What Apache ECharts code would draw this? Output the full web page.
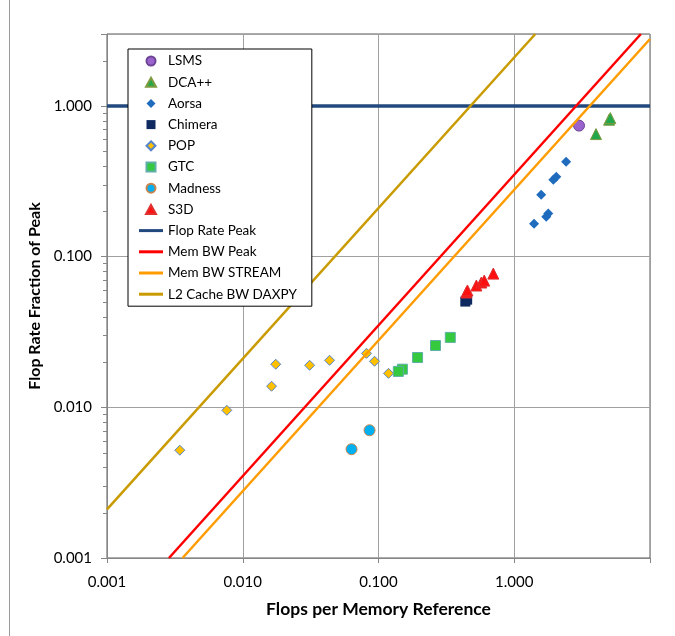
<!DOCTYPE html>
<html><head><meta charset="utf-8">
<script src="https://cdn.jsdelivr.net/npm/echarts@6/dist/echarts.min.js"></script>
<style>html,body{margin:0;padding:0;background:#fff}#c{width:675px;height:636px}</style>
</head><body><div id="c"></div>
<script>
// ---- data (x = Flops per Memory Reference, y = Flop Rate Fraction of Peak) ----
const xTickValues = [0.001, 0.01, 0.1, 1];
const yTickValues = [0.001, 0.01, 0.1, 1];
const yMinorTickValues = [0.002,0.003,0.004,0.005,0.006,0.007,0.008,0.009,
  0.02,0.03,0.04,0.05,0.06,0.07,0.08,0.09,
  0.2,0.3,0.4,0.5,0.6,0.7,0.8,0.9, 2];

const lsms    = [[3.0, 0.74]];
const dcapp   = [[4.0, 0.65], [5.0, 0.81], [5.1, 0.83]];
const aorsa   = [[2.41, 0.426], [2.04, 0.339], [1.94, 0.324], [1.58, 0.257], [1.78, 0.193], [1.72, 0.184], [1.40, 0.165]];
const chimera = [[0.436, 0.0503], [0.45, 0.0518]];
const pop     = [[0.00344, 0.00519], [0.00763, 0.00955], [0.0163, 0.0138], [0.0175, 0.0193], [0.0311, 0.0190],
                 [0.0436, 0.0205], [0.0816, 0.0228], [0.0935, 0.0202], [0.1185, 0.0168]];
const gtc     = [[0.338, 0.0291], [0.263, 0.0257], [0.194, 0.0214], [0.150, 0.0179], [0.140, 0.0173]];
const madness = [[0.0859, 0.00704], [0.0633, 0.00527]];
const s3d     = [[0.444, 0.0578], [0.452, 0.0596], [0.526, 0.0643], [0.572, 0.0673], [0.601, 0.0693], [0.701, 0.0771]];

const flopRatePeak = [[0.001, 1], [10, 1]];
const memBWPeak    = [[0.00286, 0.001], [8.57, 3]];
const memBWStream  = [[0.0036, 0.001], [10, 2.78]];
const l2CacheDaxpy = [[0.001, 0.0021], [1.43, 3]];

const FONT = 'Lato';
const isPow10 = v => Math.abs(Math.log10(v) - Math.round(Math.log10(v))) < 1e-6;
const LINE_ICON = 'path://M0,0L24,0L24,3L0,3Z';
const TRI_ICON = 'path://M5,0L10,9L0,9Z';
const DIA_ICON = 'path://M5,0L10,5L5,10L0,5Z';
const SQ_ICON = 'path://M0,0L10,0L10,10L0,10Z';

function scatter(name, data, symbol, size, fill, border, bw) {
  return { name, type: 'scatter', data, symbol, symbolSize: size, z: 3,
    itemStyle: { color: fill, borderColor: border, borderWidth: bw, opacity: 1 } };
}
function line(name, data, color, width) {
  return { name, type: 'line', data, showSymbol: false, symbol: 'none', z: 4,
    lineStyle: { color, width }, itemStyle: { color } };
}

const chart = echarts.init(document.getElementById('c'), null, { renderer: 'canvas' });
chart.setOption({
  backgroundColor: '#fff',
  animation: false,
  textStyle: { fontFamily: FONT },
  graphic: [{ type: 'line', shape: { x1: 9.5, y1: 0, x2: 9.5, y2: 636 }, style: { stroke: '#9a9a9a', lineWidth: 1 } }],
  grid: { left: 107, right: 25, top: 34, bottom: 78, show: true, borderColor: '#595959', borderWidth: 1 },
  xAxis: {
    type: 'log', logBase: 10, min: 0.001, max: 10,
    name: 'Flops per Memory Reference', nameLocation: 'middle', nameGap: 42,
    nameTextStyle: { fontFamily: FONT, fontSize: 17.5, fontWeight: 'bold', color: '#000' },
    axisLine: { lineStyle: { color: '#868686', width: 1 } },
    axisTick: { show: true, length: 5, lineStyle: { color: '#868686' } },
    axisLabel: { margin: 17, fontSize: 15, color: '#000', fontFamily: FONT,
      formatter: v => (isPow10(v) && xTickValues.some(t => Math.abs(t - v) / t < 1e-6)) ? v.toFixed(3) : '' },
    splitLine: { show: true, lineStyle: { color: '#a0a0a0', width: 1 } }
  },
  yAxis: {
    type: 'log', logBase: 10, min: 0.001, max: 3,
    name: 'Flop Rate Fraction of Peak', nameLocation: 'middle', nameGap: 63,
    nameTextStyle: { fontFamily: FONT, fontSize: 16, fontWeight: 'bold', color: '#000' },
    axisLine: { lineStyle: { color: '#868686', width: 1 } },
    axisTick: { show: true, length: 6, lineStyle: { color: '#868686' } },
    axisLabel: { margin: 15, fontSize: 15, color: '#000', fontFamily: FONT,
      formatter: v => (isPow10(v) && yTickValues.some(t => Math.abs(t - v) / t < 1e-6)) ? v.toFixed(3) : '' },
    splitLine: { show: true, lineStyle: { color: '#a0a0a0', width: 1 } }
  },
  legend: {
    orient: 'vertical', left: 128, top: 49, z: 20, zlevel: 0,
    padding: [5, 15, 5, 11],
    backgroundColor: '#fff', borderColor: '#000', borderWidth: 1, borderRadius: 0,
    itemWidth: 24, itemHeight: 9, itemGap: 7.2, symbolKeepAspect: true,
    textStyle: { fontFamily: FONT, fontSize: 13.5, color: '#000', lineHeight: 14 },
    data: [
      { name: 'LSMS', icon: 'circle' },
      { name: 'DCA++', icon: TRI_ICON },
      { name: 'Aorsa', icon: DIA_ICON },
      { name: 'Chimera', icon: SQ_ICON },
      { name: 'POP', icon: DIA_ICON },
      { name: 'GTC', icon: SQ_ICON },
      { name: 'Madness', icon: 'circle' },
      { name: 'S3D', icon: TRI_ICON },
      { name: 'Flop Rate Peak', icon: LINE_ICON },
      { name: 'Mem BW Peak', icon: LINE_ICON },
      { name: 'Mem BW STREAM', icon: LINE_ICON },
      { name: 'L2 Cache BW DAXPY', icon: LINE_ICON }
    ]
  },
  series: [
    { type: 'custom', name: 'minorTicks', silent: true, clip: false, z: 2,
      data: yMinorTickValues.map(v => [0.001, v]),
      renderItem: (params, api) => {
        const p = api.coord([api.value(0), api.value(1)]);
        return { type: 'line', shape: { x1: p[0] - 4, y1: Math.round(p[1]) + 0.5, x2: p[0], y2: Math.round(p[1]) + 0.5 },
          style: { stroke: '#868686', lineWidth: 1 } };
      } },
    scatter('LSMS', lsms, 'circle', 11, '#9B63CC', '#6E4596', 1),
    scatter('DCA++', dcapp, 'triangle', 11, '#22A84A', '#7F9A3F', 1),
    scatter('Aorsa', aorsa, 'diamond', 10, '#1F6CBF', '#1F6CBF', 0),
    scatter('Chimera', chimera, 'rect', 10, '#0E2A60', '#0E2A60', 0),
    scatter('POP', pop, 'diamond', 10, '#FFC000', '#5585CC', 1),
    scatter('GTC', gtc, 'rect', 10, '#35C940', '#5FAFA8', 1),
    scatter('Madness', madness, 'circle', 11, '#00B0F0', '#C8844E', 1),
    scatter('S3D', s3d, 'triangle', 11, '#FF1010', '#E03030', 1),
    line('Flop Rate Peak', flopRatePeak, '#22497E', 3.5),
    line('Mem BW Peak', memBWPeak, '#FF0000', 2.5),
    line('Mem BW STREAM', memBWStream, '#FF9C00', 2.5),
    line('L2 Cache BW DAXPY', l2CacheDaxpy, '#C99B00', 2.5)
  ]
});
</script></body></html>
